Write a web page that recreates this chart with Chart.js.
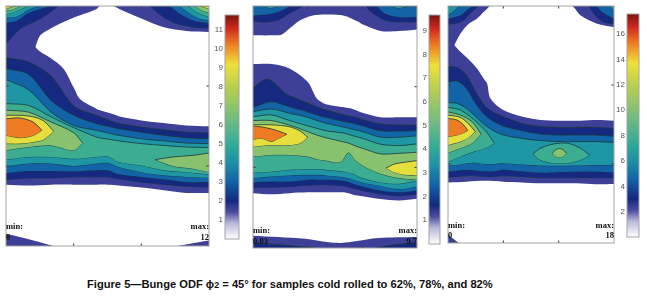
<!DOCTYPE html>
<html><head><meta charset="utf-8">
<script src="https://cdn.jsdelivr.net/npm/chart.js@4/dist/chart.umd.min.js"></script>
<style>
html,body{margin:0;padding:0;background:#fff;width:647px;height:297px;overflow:hidden}
canvas{position:absolute;filter:blur(0.6px)}
.lab{position:absolute;font:bold 8.5px "Liberation Serif",serif;color:#111;line-height:9px;filter:blur(0.35px);white-space:nowrap}
#cap{position:absolute;left:87px;top:278px;font:bold 11.15px "Liberation Sans",Arial,sans-serif;color:#111;white-space:nowrap}
</style></head><body>
<div id="cap">Figure 5—Bunge ODF ɸ<span style="font-size:9px">2</span> = 45° for samples cold rolled to 62%, 78%, and 82%</div>
<script>
/* contour level colours */
const PURPLE='#3d4096',NAVY='#14297f',BLUE='#1364a6',DTEAL='#1e96a4',TEAL='#3dad92',GREEN='#88c26e',YELLOW='#e6de3c',ORANGE='#ee7b22',WHITE='#ffffff';
const axisTicks=[30,60];

/* ---- panel 1 (62%) ---- */
const p1_x=[0,10,20,30,40,45,50,60,70,80,90];
const p1_purple_bot=[67,67.3,67,67,67,67,67.3,68.1,69.1,70.1,70.1];
const p1_hole_x=[13,15.2,19.6,25.5,29.9,32.9,40,41.7,47.6,50,60,70,80,90];
const p1_hole_top=[15.4,11,8.5,6,4.4,3.5,1.25,0,0,1,4.7,8,9.4,9.75];
const p1_hole_bot=[15.4,17.2,19.4,23.5,30.4,35,38.5,39.1,40.6,41.3,42.9,43.9,44.8,45.1];
const p1_navy_top=[19.4,21,26.3,37.5,41,42.6,44.1,45.4,46.4,47.3,47.6];
const p1_navy_bot=[65.1,64.5,64.5,64.1,64.1,64.1,64.8,66,66.9,67.6,67.9];
const p1_blue_top=[23.5,25.6,35.4,41,44.1,45.1,46,47.3,48.5,49.4,49.8];
const p1_blue_bot=[62.6,61.9,61.9,62,61.6,61.6,63.1,64.1,65,66,66];
const p1_dteal_top=[27.6,31.4,39.8,44.8,46.6,47.6,48.5,49.8,50.6,51.4,51.6];
const p1_dteal_bot=[60.1,59.1,59.1,60,59.1,58.8,60.4,62.3,63.5,64.1,64.4];
const p1_teal_top=[36.6,37.3,41.6,45.6,49.1,49.9,50.6,51.6,52.3,52.9,53.1];
const p1_teal_bot=[57.6,56.6,56.6,57.3,56.6,56.3,58.5,59.8,61.6,62.3,63.1];
const p1_green_x=[0,10,20,30,34];
const p1_green_top=[39.1,39.8,43.5,47.5,51.4];
const p1_green_bot=[54.1,52.9,52.3,54.1,51.4];
const p1_yellow_x=[0,6.3,12.2,16.7,21.1];
const p1_yellow_top=[41,41,41.6,43.1,46.9];
const p1_yellow_bot=[51.6,51.6,51,50.1,46.9];
const p1_orange_x=[0,6.3,12.2,15.9];
const p1_orange_top=[42.3,42,43.6,46.6];
const p1_orange_bot=[48.5,49.4,48.5,46.6];
const p1_rgreen_x=[66.1,74.2,83,90];
const p1_rgreen_top=[57.6,56.6,56,55.1];
const p1_rgreen_bot=[57.6,60.1,61,62.3];
/* corner lobes: [x],[lower edge] */
const p1_tl_navy_x=[0,6.3,15.2,23.3], p1_tl_navy=[14.1,8.5,4.8,0];
const p1_tl_blue_x=[0,4.9,10,19.6], p1_tl_blue=[6.4,5.4,2.6,0];
const p1_tl_dteal_x=[0,4.9,10,14.5], p1_tl_dteal=[4.4,3.9,1.4,0];
const p1_tl_teal_x=[0,3.4,10], p1_tl_teal=[3.1,2.3,0];
const p1_tl_green_x=[0,2.7,6.3], p1_tl_green=[1.6,1.4,0];
const p1_tl_yellow_x=[0,4.1], p1_tl_yellow=[1,0];
const p1_tr_navy_x=[63.9,69.8,75.7,83,90], p1_tr_navy=[0,4.1,6.6,7.9,8.3];
const p1_tr_blue_x=[72.7,77.1,83,90], p1_tr_blue=[0,2.9,5.4,6.4];
const p1_tr_dteal_x=[77.1,81.6,86,90], p1_tr_dteal=[0,2.9,4.8,5.4];
const p1_tr_teal_x=[80.8,84.5,90], p1_tr_teal=[0,2.3,4.1];
const p1_tr_green_x=[83.8,86.7,90], p1_tr_green=[0,1.6,2.6];
const p1_tr_yellow_x=[86,90], p1_tr_yellow=[0,1];
const p1_bl_x=[0,12.2,21.1], p1_bl=[85.4,87.9,90];
const p1_br_x=[75.7,90], p1_br=[90,87.9];
const p1_bar_ticks=[1,2,3,4,5,6,7,8,9,10,11], p1_bar_max=11.8;

/* ---- panel 2 (78%) ---- */
const p2_x=[0,10,20,30,35,40,50,55,60,70,80,90];
const p2_toplobe_x=[0,10,15.9,20,25.9,32.3,40,50,57.8,60,70,80,90];
const p2_toplobe=[10.9,10.9,10.6,8.4,5.3,3.6,3.2,3.6,5.9,6.8,9.3,9.3,8.7];
const p2_purple_top=[21.6,21.6,23.2,28.2,34.4,36.5,37.7,38.4,39.7,41.4,41.4,41.4];
const p2_purple_bot=[69.6,70,69.6,69.3,69.3,69.3,69.3,70.2,70.8,71.8,72.3,71.7];
const p2_navy_x=[0,3.1,7.7,11.3,17.7,25,35,40,50,55,60,70,80,90];
const p2_navy_top=[30.7,28.8,27.2,28.4,32.5,34.7,37.5,38.7,40.5,41.2,42.2,43.9,44.3,44.3];
const p2_navy_bot=[67.4,67.4,67.4,67.4,67.2,66.9,66.5,66.5,66.9,67.7,68.6,69.9,70.6,70];
const p2_blue_top=[37.7,35.6,37.5,39.3,40.5,41.4,43,43.6,44.5,46.4,46.5,46.4];
const p2_blue_bot=[65.6,65.3,65.3,64.6,64.6,64.6,65,66.1,67.1,68.6,69.3,68.6];
const p2_dteal_top=[39.3,38.3,39.9,41.4,42.6,43.6,45.1,45.9,46.7,48.8,48.8,48.3];
const p2_dteal_bot=[64,63.4,63,62.8,62.8,63,63.7,64.6,65.6,66.9,68.1,67.1];
const p2_teal_top=[41.2,40.5,42.6,44.6,45.5,46.4,47.3,48.3,49.2,51.4,51.9,51.3];
const p2_teal_bot=[61.9,61.6,60.9,60.7,60.7,60.9,61.6,62.4,64,65.6,66.1,64.9];
const p2_green_x=[0,10,20,29.9,35,40,45.1,48.7,52.4,56,60,70,80,90];
const p2_green_top=[42.6,42.6,44.3,46.7,48,49,49.8,50.4,51,52,52.9,55,54.8,54.4];
const p2_green_bot=[56,55.4,55.4,56,57,57.5,58.2,57.6,54.5,57.2,59.3,62.4,64,64.6];
const p2_yellow_x=[0,10,20,25.9,29.9];
const p2_yellow_top=[44.2,44.2,44.9,46.5,48.8];
const p2_yellow_bot=[52.3,51.7,51.7,51,48.8];
const p2_orange_x=[0,4.9,10,14,18.6];
const p2_orange_top=[44.6,45,45.7,46.5,47.7];
const p2_orange_bot=[49.6,49.2,50.4,49.2,47.7];
const p2_ryellow_x=[73,77.9,83.4,90];
const p2_ryellow_top=[60.3,58.7,58.1,57.5];
const p2_ryellow_bot=[60.3,61.9,62.8,63];
const p2_tl_navy_x=[0,6.8,14,21.2,27.7], p2_tl_navy=[5.6,6,5.1,2.2,0];
const p2_tl_blue_x=[0,8.6,15.9,20.4], p2_tl_blue=[3.5,3.1,1.6,0];
const p2_tl_teal_x=[5.8,9.5,14], p2_tl_teal=[0,0.8,0];
const p2_tr_navy_x=[61.5,66.1,72.4,79.7,90], p2_tr_navy=[0,2.8,5.3,5.9,5.9];
const p2_tr_blue_x=[67.9,72.4,79.7,90], p2_tr_blue=[0,2.8,4.1,4.1];
const p2_tr_teal_x=[76.1,79.7,85.2], p2_tr_teal=[0,0.8,0];
const p2_bot_x=[0,14,28.6,41.4,48.7,56,68.8,90];
const p2_bot=[85.4,85.9,86.6,87.9,88.1,87.5,86.3,85.9];
const p2_bl_x=[0,14,34.1], p2_bl=[88.1,88.8,90];
const p2_br_x=[67,77.9,90], p2_br=[90,88.8,88.1];
const p2_bar_ticks=[1,2,3,4,5,6,7,8,9], p2_bar_max=9.66;

/* ---- panel 3 (82%) ---- */
const p3_x=[0,5,10,15,20,25,30,40,50,60,70,80,90];
const p3_edge_x=[0,10,20,30,40,50,60,70,80,90];
const p3_purple_bot=[67,66.7,66.4,66.7,67,67.3,67.3,67.3,67.7,67.6];
const p3_hole_x=[3.4,6.7,11.2,15.7,19.3,21.2,23,30,40,50,60,67.2,71.8,80.8,90];
const p3_hole_top=[14.9,10.5,6.7,4.8,2.3,1,0,0,0,0,0,0,3.5,6.7,8];
const p3_hole_bot=[14.9,17.4,20.3,23.7,27.5,29.4,35.1,39.5,42,43.3,43.6,43.6,43.6,43.3,43.6];
const p3_navy_top=[22.9,23.4,26.3,32.6,38,40.5,42,44.6,45.8,46.1,46.1,46.1,46.5];
const p3_navy_bot=[65,64.8,64.5,64.5,64.8,64.8,64.5,64.8,65.2,65.2,65.2,65.2,65.2];
const p3_blue_top=[28.8,28.5,31.3,37,41.4,43.9,45.6,47.3,48.6,49,49,49,49.4];
const p3_blue_bot=[62.9,62.5,62.2,62.5,62.8,62.8,62.2,62.8,63.3,63,62.9,62.9,63.1];
const p3_dteal_top=[36.7,37,38.9,42,45.2,47.5,49,50.3,51.1,51.5,51.5,51.5,51.8];
const p3_dteal_bot=[60.6,60.4,59.7,59.5,60,60,59.7,60.2,60.6,60.7,60.6,60.4,60.4];
const p3_teal_x=[0,6.7,13.9,21.2,25.1];
const p3_teal_top=[38.5,39.5,43.1,48.1,52.1];
const p3_teal_bot=[59.1,57.2,55.3,53.7,52.1];
const p3_green_x=[0,6.7,13,17.9];
const p3_green_top=[40.2,41.4,43.9,48.6];
const p3_green_bot=[55.7,54,52.1,48.6];
const p3_yellow_x=[0,6.7,11.2,14.8];
const p3_yellow_top=[41.4,42.3,44.8,47.7];
const p3_yellow_bot=[52.8,51.5,49.9,47.7];
const p3_orange_x=[0,4.9,8.5,10.7];
const p3_orange_top=[42.7,43.3,45.2,47.3];
const p3_orange_bot=[49.6,49,48.1,47.3];
const p3_isl_x=[46.1,50.1,57.3,64.6,71.8,76.7];
const p3_isl_top=[56.2,54,52.4,52.1,54,56.6];
const p3_isl_bot=[56.2,58.5,59.7,59.7,58.5,56.6];
const p3_core_x=[56.4,59.1,61.8,64.2];
const p3_core_top=[55.9,54.3,54.3,55.9];
const p3_core_bot=[55.9,57.4,57.4,55.9];
const p3_tl_navy_x=[0,6.7,13.9,16.6], p3_tl_navy=[6.9,6.1,1.6,0];
const p3_tl_blue_x=[0,6.7,11.2,13.9], p3_tl_blue=[4.8,3.5,1,0];
const p3_tl_dteal_x=[0,3.1,5.8], p3_tl_dteal=[3.2,1.9,0];
const p3_tr_navy_x=[76.3,79.9,84.4,90], p3_tr_navy=[0,3.5,6.1,6.7];
const p3_tr_blue_x=[80.8,83.5,90], p3_tr_blue=[0,2.3,4.8];
const p3_tr_dteal_x=[87.2,90], p3_tr_dteal=[0,1.6];
const p3_bl_x=[0,5.8], p3_bl=[86.9,90];
const p3_bar_ticks=[2,4,6,8,10,12,14,16], p3_bar_max=17.6;

/* colour bar */
const barStops=[0,0.07,0.12,0.17,0.26,0.34,0.41,0.53,0.68,0.78,0.87,0.94,1];
const barColors=['#ffffff','#b9b9dc','#4a4c9e','#14297f','#1364a6','#1d8fa6','#2ca89a','#6fbb82','#b9d04e','#f0e03a','#ee7b22','#cf2a1c','#7a1410'];

/* labels */
const minWord='min:', maxWord='max:';
const p1_labels=['0','12'], p2_labels=['0.03','9.7'], p3_labels=['0','18'];

const frame={id:'frame',afterDatasetsDraw(c){const a=c.chartArea,x=c.ctx;x.save();x.strokeStyle='#a3a3a3';x.lineWidth=1;x.strokeRect(a.left,a.top,a.right-a.left,a.bottom-a.top);x.restore();}};
const LINE='#17393c';
function band(out,color,xs,top,bot,edge){
  const pts=a=>xs.map((v,i)=>({x:v,y:a[i]}));
  const n=out.length;
  const base={pointRadius:0,tension:0.3,borderWidth:edge?0.8:0,borderColor:edge?LINE:'rgba(0,0,0,0)',order:1000-n};
  out.push({...base,data:pts(top),fill:'+1',backgroundColor:color});
  out.push({...base,data:pts(bot),fill:false});
}
function fromTop(out,color,xs,low){band(out,color,xs,xs.map(()=>0),low,true);}
function toBottom(out,color,xs,up,edge){band(out,color,xs,up,xs.map(()=>90),edge);}
function tickSets(out){
  out.push({showLine:false,order:-1,pointStyle:'line',pointRadius:2.5,pointBorderColor:'#333',pointBorderWidth:1,data:axisTicks.flatMap(v=>[{x:0,y:v},{x:90,y:v}])});
  out.push({showLine:false,order:-1,pointStyle:'line',pointRotation:90,pointRadius:2.5,pointBorderColor:'#333',pointBorderWidth:1,data:axisTicks.flatMap(v=>[{x:v,y:0},{x:v,y:90}])});
}
function mkCanvas(l,t,w,h){const c=document.createElement('canvas');c.width=w;c.height=h;c.style.left=l+'px';c.style.top=t+'px';c.style.width=w+'px';c.style.height=h+'px';document.body.appendChild(c);return c;}
function contour(l,t,w,h,datasets){
  tickSets(datasets);
  new Chart(mkCanvas(l-2,t-2,w+4,h+4),{type:'line',data:{datasets},plugins:[frame],options:{
    responsive:false,animation:false,events:[],layout:{padding:2,autoPadding:false},
    plugins:{legend:{display:false},tooltip:{enabled:false},title:{display:false}},
    scales:{x:{type:'linear',min:0,max:90,display:false},y:{type:'linear',min:0,max:90,reverse:true,display:false}}
  }});
}
function colorbar(l,t,w,h,max,ticks){
  new Chart(mkCanvas(l-18,t-10,w+20,h+20),{type:'bar',data:{labels:[''],datasets:[{data:[max],barPercentage:1,categoryPercentage:1,
    backgroundColor(ctx){const a=ctx.chart.chartArea;if(!a)return '#888';const g=ctx.chart.ctx.createLinearGradient(0,a.bottom,0,a.top);barStops.forEach((s,i)=>g.addColorStop(s,barColors[i]));return g;}}]},
    plugins:[frame],options:{responsive:false,animation:false,events:[],layout:{padding:{top:10,bottom:10,left:0,right:2},autoPadding:false},
    plugins:{legend:{display:false},tooltip:{enabled:false}},
    scales:{x:{display:false},y:{position:'left',min:0,max,afterBuildTicks(a){a.ticks=ticks.map(v=>({value:v}));},afterFit(a){a.width=18;},
      grid:{display:false,drawTicks:false},border:{display:false},ticks:{autoSkip:false,padding:2,color:'#555',font:{size:8,family:'Liberation Sans'},callback:v=>String(v)}}}}});
}
function labels(l,r,yTop,yBot,vals){
  const add=(txt,css,y)=>{const d=document.createElement('div');d.className='lab';d.textContent=txt;d.style.top=y+'px';Object.assign(d.style,css);document.body.appendChild(d);};
  const R=(647-r)+'px';
  add(minWord,{left:l+'px'},yTop);add(maxWord,{right:R},yTop);
  add(vals[0],{left:l+'px'},yBot);add(vals[1],{right:R},yBot);
}

/* panel 1 */
{const d=[];
 band(d,PURPLE,p1_x,p1_x.map(()=>0),p1_purple_bot,false);
 band(d,WHITE,p1_hole_x,p1_hole_top,p1_hole_bot,false);
 band(d,PURPLE,p1_bl_x,p1_bl,p1_bl_x.map(()=>90),false);
 band(d,PURPLE,p1_br_x,p1_br,p1_br_x.map(()=>90),false);
 band(d,NAVY,p1_x,p1_navy_top,p1_navy_bot,true);
 band(d,BLUE,p1_x,p1_blue_top,p1_blue_bot,true);
 band(d,DTEAL,p1_x,p1_dteal_top,p1_dteal_bot,true);
 band(d,TEAL,p1_x,p1_teal_top,p1_teal_bot,true);
 band(d,GREEN,p1_green_x,p1_green_top,p1_green_bot,true);
 band(d,GREEN,p1_rgreen_x,p1_rgreen_top,p1_rgreen_bot,true);
 band(d,YELLOW,p1_yellow_x,p1_yellow_top,p1_yellow_bot,true);
 band(d,ORANGE,p1_orange_x,p1_orange_top,p1_orange_bot,true);
 fromTop(d,NAVY,p1_tl_navy_x,p1_tl_navy);fromTop(d,BLUE,p1_tl_blue_x,p1_tl_blue);fromTop(d,DTEAL,p1_tl_dteal_x,p1_tl_dteal);
 fromTop(d,TEAL,p1_tl_teal_x,p1_tl_teal);fromTop(d,GREEN,p1_tl_green_x,p1_tl_green);fromTop(d,YELLOW,p1_tl_yellow_x,p1_tl_yellow);
 fromTop(d,NAVY,p1_tr_navy_x,p1_tr_navy);fromTop(d,BLUE,p1_tr_blue_x,p1_tr_blue);fromTop(d,DTEAL,p1_tr_dteal_x,p1_tr_dteal);
 fromTop(d,TEAL,p1_tr_teal_x,p1_tr_teal);fromTop(d,GREEN,p1_tr_green_x,p1_tr_green);fromTop(d,YELLOW,p1_tr_yellow_x,p1_tr_yellow);
 contour(6,6,203,240,d);
 colorbar(225,15,14,224,p1_bar_max,p1_bar_ticks);
 labels(6,209,222,233,p1_labels);
}
/* panel 2 */
{const d=[];
 band(d,PURPLE,p2_toplobe_x,p2_toplobe_x.map(()=>0),p2_toplobe,false);
 band(d,PURPLE,p2_x,p2_purple_top,p2_purple_bot,false);
 toBottom(d,PURPLE,p2_bot_x,p2_bot,false);
 toBottom(d,NAVY,p2_bl_x,p2_bl,true);
 toBottom(d,NAVY,p2_br_x,p2_br,true);
 band(d,NAVY,p2_navy_x,p2_navy_top,p2_navy_bot,true);
 band(d,BLUE,p2_x,p2_blue_top,p2_blue_bot,true);
 band(d,DTEAL,p2_x,p2_dteal_top,p2_dteal_bot,true);
 band(d,TEAL,p2_x,p2_teal_top,p2_teal_bot,true);
 band(d,GREEN,p2_green_x,p2_green_top,p2_green_bot,true);
 band(d,YELLOW,p2_yellow_x,p2_yellow_top,p2_yellow_bot,true);
 band(d,ORANGE,p2_orange_x,p2_orange_top,p2_orange_bot,true);
 band(d,YELLOW,p2_ryellow_x,p2_ryellow_top,p2_ryellow_bot,true);
 fromTop(d,NAVY,p2_tl_navy_x,p2_tl_navy);fromTop(d,BLUE,p2_tl_blue_x,p2_tl_blue);fromTop(d,DTEAL,p2_tl_teal_x,p2_tl_teal);
 fromTop(d,NAVY,p2_tr_navy_x,p2_tr_navy);fromTop(d,BLUE,p2_tr_blue_x,p2_tr_blue);fromTop(d,DTEAL,p2_tr_teal_x,p2_tr_teal);
 contour(253,6,164,242,d);
 colorbar(429,15,11,229,p2_bar_max,p2_bar_ticks);
 labels(253,417,226,237,p2_labels);
}
/* panel 3 */
{const d=[];
 band(d,PURPLE,p3_edge_x,p3_edge_x.map(()=>0),p3_purple_bot,false);
 band(d,WHITE,p3_hole_x,p3_hole_top,p3_hole_bot,false);
 toBottom(d,PURPLE,p3_bl_x,p3_bl,false);
 band(d,NAVY,p3_x,p3_navy_top,p3_navy_bot,true);
 band(d,BLUE,p3_x,p3_blue_top,p3_blue_bot,true);
 band(d,DTEAL,p3_x,p3_dteal_top,p3_dteal_bot,true);
 band(d,TEAL,p3_teal_x,p3_teal_top,p3_teal_bot,true);
 band(d,GREEN,p3_green_x,p3_green_top,p3_green_bot,true);
 band(d,YELLOW,p3_yellow_x,p3_yellow_top,p3_yellow_bot,true);
 band(d,ORANGE,p3_orange_x,p3_orange_top,p3_orange_bot,true);
 band(d,TEAL,p3_isl_x,p3_isl_top,p3_isl_bot,true);
 band(d,GREEN,p3_core_x,p3_core_top,p3_core_bot,true);
 fromTop(d,NAVY,p3_tl_navy_x,p3_tl_navy);fromTop(d,BLUE,p3_tl_blue_x,p3_tl_blue);fromTop(d,DTEAL,p3_tl_dteal_x,p3_tl_dteal);
 fromTop(d,NAVY,p3_tr_navy_x,p3_tr_navy);fromTop(d,BLUE,p3_tr_blue_x,p3_tr_blue);fromTop(d,DTEAL,p3_tr_dteal_x,p3_tr_dteal);
 contour(448,6,166,237,d);
 colorbar(627,14,12,223,p3_bar_max,p3_bar_ticks);
 labels(448,614,221,231,p3_labels);
}
</script>
</body></html>
